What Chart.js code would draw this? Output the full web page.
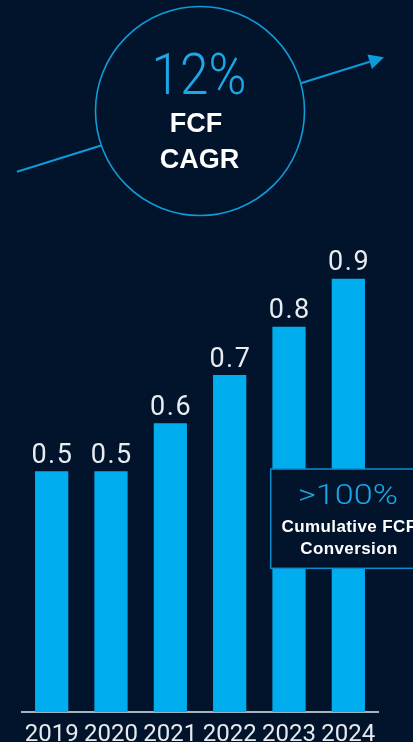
<!DOCTYPE html>
<html><head><meta charset="utf-8">
<script src="https://cdn.jsdelivr.net/npm/chart.js@4"></script>
<style>
html,body{margin:0;padding:0;background:#02142b;overflow:hidden;width:413px;height:742px}
#wrap{position:relative;width:413px;height:742px;overflow:hidden}
canvas{position:absolute;left:0;top:0}
.t{position:absolute;white-space:nowrap;line-height:1;transform-origin:50% 50%}
#cagrVal{font-family:Roboto,sans-serif;font-weight:300;font-size:57px;color:#1aa8e6;left:198.5px;top:46.3px;transform:translateX(-50%) scaleX(0.9)}
#cagrL1{font-family:"Liberation Sans",Arial,sans-serif;font-weight:700;font-size:27px;color:#fff;left:196px;top:109.8px;transform:translateX(-50%)}
#cagrL2{font-family:"Liberation Sans",Arial,sans-serif;font-weight:700;font-size:27px;color:#fff;left:199.5px;top:146.1px;transform:translateX(-50%)}
#convVal{font-family:Roboto,sans-serif;font-weight:300;font-size:28px;color:#1aa8e6;left:347.7px;top:481.4px;transform:translateX(-50%) scaleX(1.22)}
#convL1{font-family:"Liberation Sans",Arial,sans-serif;font-weight:700;font-size:17px;color:#fff;left:349px;top:517.6px;transform:translateX(-50%);letter-spacing:0.4px}
#convL2{font-family:"Liberation Sans",Arial,sans-serif;font-weight:700;font-size:17px;color:#fff;left:349px;top:539.6px;transform:translateX(-50%);letter-spacing:0.4px}
</style></head><body>
<div id="wrap">
<canvas id="c" width="413" height="760"></canvas>
<div class="t" id="cagrVal">12%</div>
<div class="t" id="cagrL1">FCF</div>
<div class="t" id="cagrL2">CAGR</div>
<div class="t" id="convVal">&gt;100%</div>
<div class="t" id="convL1">Cumulative FCF</div>
<div class="t" id="convL2">Conversion</div>
</div>
<script>
const categories = ['2019', '2020', '2021', '2022', '2023', '2024'];
const fcfValues = [0.5, 0.5, 0.6, 0.7, 0.8, 0.9];
const valueLabels = ['0.5', '0.5', '0.6', '0.7', '0.8', '0.9'];

const BG = '#02142b';
const BAR = '#00aeef';
const ACCENT = '#0e9bd8';

const decorPlugin = {
  id: 'decor',
  beforeDraw(chart) {
    const ctx = chart.ctx;
    ctx.save();
    ctx.fillStyle = BG;
    ctx.fillRect(0, 0, chart.width, chart.height);
    const x0 = 17, y0 = 171.7, x1 = 384, y1 = 57.3;
    const ang = Math.atan2(y1 - y0, x1 - x0);
    const hl = 15, hw = 7.5;
    const bx = x1 - hl * Math.cos(ang), by = y1 - hl * Math.sin(ang);
    ctx.strokeStyle = ACCENT;
    ctx.lineWidth = 2;
    ctx.beginPath();
    ctx.moveTo(x0, y0);
    ctx.lineTo(bx, by);
    ctx.stroke();
    ctx.fillStyle = ACCENT;
    ctx.beginPath();
    ctx.moveTo(x1, y1);
    ctx.lineTo(bx + hw * Math.sin(ang), by - hw * Math.cos(ang));
    ctx.lineTo(bx - hw * Math.sin(ang), by + hw * Math.cos(ang));
    ctx.closePath();
    ctx.fill();
    ctx.beginPath();
    ctx.arc(200, 111, 104.5, 0, Math.PI * 2);
    ctx.fillStyle = BG;
    ctx.fill();
    ctx.lineWidth = 1.6;
    ctx.strokeStyle = ACCENT;
    ctx.stroke();
    ctx.restore();
  },
  afterDatasetsDraw(chart) {
    const ctx = chart.ctx;
    const meta = chart.getDatasetMeta(0);
    ctx.save();
    ctx.font = '400 27px Roboto, sans-serif';
    ctx.fillStyle = '#e8ecf1';
    ctx.textAlign = 'center';
    ctx.textBaseline = 'alphabetic';
    ctx.letterSpacing = '1.5px';
    meta.data.forEach((bar, i) => {
      ctx.fillText(valueLabels[i], bar.x + 0.75, bar.y - 8.5);
    });
    ctx.restore();
  },
  afterDraw(chart) {
    const ctx = chart.ctx;
    ctx.save();
    ctx.fillStyle = BG;
    ctx.fillRect(270.7, 469, 160, 99.3);
    ctx.strokeStyle = '#0b8ccc';
    ctx.lineWidth = 1.5;
    ctx.strokeRect(270.7, 469, 160, 99.3);
    ctx.restore();
  }
};

new Chart(document.getElementById('c'), {
  type: 'bar',
  data: {
    labels: categories,
    datasets: [{
      data: fcfValues,
      backgroundColor: BAR,
      borderWidth: 0,
      barPercentage: 0.8,
      categoryPercentage: 0.7
    }]
  },
  options: {
    responsive: false,
    animation: false,
    events: [],
    layout: { padding: { left: 22, right: 35, top: 230.5, bottom: 2 } },
    plugins: { legend: { display: false }, tooltip: { enabled: false } },
    scales: {
      y: { display: false, min: 0, max: 1.0 },
      x: {
        grid: { display: false, drawTicks: false },
        border: { display: true, color: '#aab3c0', width: 2 },
        ticks: {
          color: '#e6e9ee',
          padding: 8.5,
          minRotation: 0,
          maxRotation: 0,
          autoSkip: false,
          font: { family: 'Roboto, sans-serif', size: 24, weight: '400', lineHeight: 1.2 }
        }
      }
    }
  },
  plugins: [decorPlugin]
});
</script>
</body></html>
